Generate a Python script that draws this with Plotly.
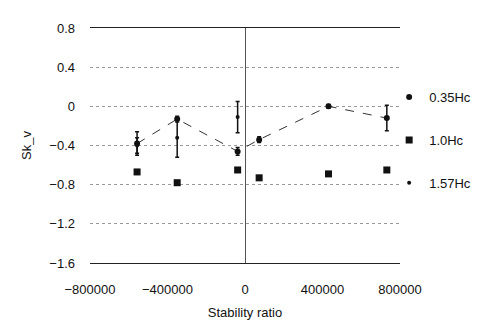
import plotly.graph_objects as go

x_pos = [-557000, -350000, -38000, 73000, 431000, 732000]
y_035 = [-0.38, -0.13, -0.46, -0.34, 0.0, -0.12]
err_035 = [0.12, 0.03, 0.04, 0.03, 0.02, 0.13]
y_10 = [-0.67, -0.78, -0.65, -0.73, -0.69, -0.65]
x_157 = [-557000, -350000, -38000]
y_157 = [-0.40, -0.32, -0.11]
err_157 = [0.08, 0.2, 0.16]

y_ticks = [0.8, 0.4, 0, -0.4, -0.8, -1.2, -1.6]
x_ticks = [-800000, -400000, 0, 400000, 800000]

font = dict(family="Liberation Sans, Arial, sans-serif", size=13, color="#111")

fig = go.Figure()
fig.add_trace(go.Scatter(
    x=x_pos, y=y_035, mode="lines", showlegend=False, hoverinfo="skip",
    line=dict(color="#333", width=1, dash="dash")))
fig.add_trace(go.Scatter(
    x=x_pos, y=y_035, name="0.35Hc", mode="markers",
    marker=dict(symbol="circle", size=6, color="#111"),
    error_y=dict(type="data", array=err_035, color="#111", thickness=1.5, width=2),
    legendgroup="a"))
fig.add_trace(go.Scatter(
    x=x_pos, y=y_10, name="1.0Hc", mode="markers",
    marker=dict(symbol="square", size=7, color="#111"),
    legendgroup="b"))
fig.add_trace(go.Scatter(
    x=x_157, y=y_157, name="1.57Hc", mode="markers",
    marker=dict(symbol="circle", size=4, color="#111"),
    error_y=dict(type="data", array=err_157, color="#111", thickness=1.5, width=2),
    legendgroup="c"))

fig.update_layout(
    width=495, height=325,
    margin=dict(l=82, r=103, t=20, b=70),
    paper_bgcolor="white", plot_bgcolor="white",
    font=font,
    showlegend=True,
    legend=dict(x=0.965, y=0.77, xanchor="left", yanchor="top",
                font=dict(size=13), traceorder="grouped", tracegroupgap=23,
                itemwidth=30, bgcolor="rgba(0,0,0,0)"),
    xaxis=dict(range=[-800000, 800000], tickvals=x_ticks,
               ticktext=[f"{v:d}".replace("-", "\u2212") for v in x_ticks],
               showgrid=False, zeroline=True, zerolinecolor="#555", zerolinewidth=1,
               showline=True, linecolor="#222", linewidth=1.2, mirror=True,
               ticklabelstandoff=14,
               title=dict(text="Stability ratio", standoff=12, font=dict(size=13))),
    yaxis=dict(range=[-1.6, 0.8], tickvals=y_ticks,
               showgrid=True, gridcolor="#999", griddash="dot", gridwidth=1,
               zeroline=False, showline=False,
               ticklabelstandoff=14,
               title=dict(text="Sk_v", standoff=14, font=dict(size=13))),
)

fig.write_html("out.html")
